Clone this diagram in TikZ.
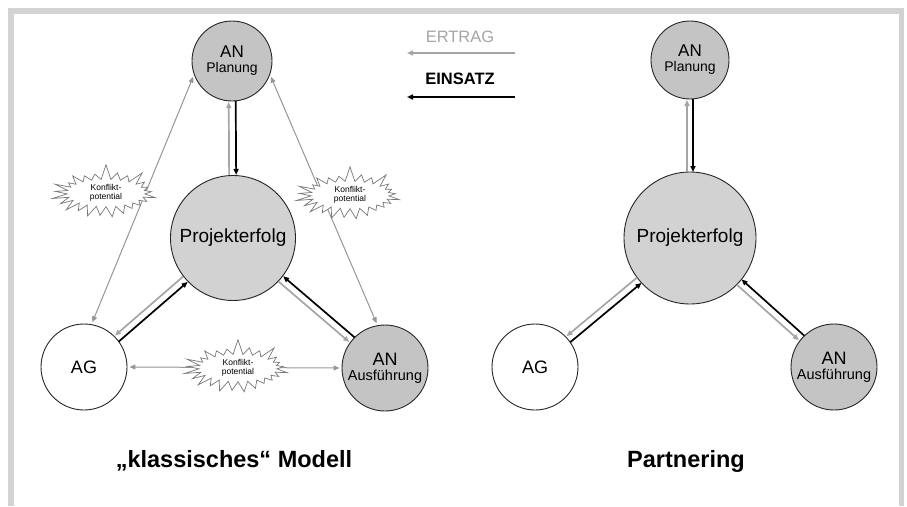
\documentclass[tikz,border=0pt]{standalone}
\usepackage{fontspec}
\setmainfont{Liberation Sans}
\usetikzlibrary{arrows.meta,calc,shapes.symbols}
\definecolor{framegray}{RGB}{211,211,211}
\definecolor{ertraggray}{RGB}{165,165,165}
\definecolor{linegray}{RGB}{150,150,150}
\definecolor{angray}{RGB}{196,196,196}
\definecolor{pgray}{RGB}{210,210,210}
\definecolor{burstgray}{RGB}{120,120,120}

\begin{document}
\begin{tikzpicture}[x=1pt,y=-1pt,
  party/.style={circle, draw=black!85, line width=0.9pt, inner sep=0pt, align=center},
  anbox/.style={party, fill=angray},
  agbox/.style={party, fill=white, font=\fontsize{18}{18}\selectfont},
  goalbox/.style={party, fill=pgray, font=\fontsize{19}{19}\selectfont},
  burst/.style={starburst, starburst points=25, starburst point height=16pt,
    random starburst=7, draw=burstgray, fill=white, line width=0.7pt,
    align=center, inner sep=1pt, minimum width=110pt, minimum height=50pt,
    font=\fontsize{8.5}{9.5}\selectfont},
  tipa/.style={-{Triangle[length=6pt,width=5pt]}},
  einsatz/.style={tipa, line width=1.7pt, black},
  ertrag/.style={tipa, line width=1.7pt, ertraggray},
  konflikt/.style={{Triangle[length=6pt,width=5pt]}-{Triangle[length=6pt,width=5pt]},
    line width=1pt, linegray, shorten <=2pt, shorten >=2pt},
  title/.style={font=\fontsize{23.5}{24}\selectfont\bfseries},
]
\useasboundingbox (0,0) rectangle (907,506);
% open frame
\draw[framegray, line width=5.7pt] (11.2,506) -- (11.2,11.2) -- (901.5,11.2) -- (901.5,506);

% ---------- classic model ----------
\node[anbox, minimum size=80pt] (lp) at (232,61)
  {\fontsize{17}{17}\selectfont AN\\[3pt]\fontsize{14}{14}\selectfont Planung};
\node[goalbox, minimum size=125pt] (lpe) at (233,238) {Projekterfolg};
\node[agbox, minimum size=86pt] (lag) at (84,367) {AG};
\node[anbox, minimum size=86pt] (laa) at (385,368)
  {\fontsize{18}{18}\selectfont AN\\[3pt]\fontsize{14.5}{15}\selectfont Ausführung};

% conflict lines between the parties
\draw[konflikt] (lp.200) -- (lag.80);
\draw[konflikt] (lp.-20) -- (laa.100);
\draw[konflikt] (lag.east) -- (laa.west);
\node[burst] (lb1) at (106,193) {Konflikt-\\potential};
\node[burst] (lb2) at (350,195) {Konflikt-\\potential};
\node[burst] (lb3) at (238,368) {Konflikt-\\potential};

% input / return pairs
\draw[einsatz, shorten <=40pt, shorten >=63pt]
  ($(lp)!3.5pt!90:(lpe)$) -- ($(lpe)!3.5pt!-90:(lp)$);
\draw[ertrag, shorten <=63pt, shorten >=41pt]
  ($(lpe)!3.5pt!90:(lp)$) -- ($(lp)!3.5pt!-90:(lpe)$);
\draw[einsatz, shorten <=43pt, shorten >=63pt]
  ($(lag)!3.5pt!-90:(lpe)$) -- ($(lpe)!3.5pt!90:(lag)$);
\draw[ertrag, shorten <=63pt, shorten >=44pt]
  ($(lpe)!3.5pt!-90:(lag)$) -- ($(lag)!3.5pt!90:(lpe)$);
\draw[einsatz, shorten <=43pt, shorten >=63pt]
  ($(laa)!3.5pt!-90:(lpe)$) -- ($(lpe)!3.5pt!90:(laa)$);
\draw[ertrag, shorten <=63pt, shorten >=44pt]
  ($(lpe)!3.5pt!-90:(laa)$) -- ($(laa)!3.5pt!90:(lpe)$);

% ---------- partnering ----------
\node[anbox, minimum size=78pt] (rp) at (690,60)
  {\fontsize{17}{17}\selectfont AN\\[3pt]\fontsize{14}{14}\selectfont Planung};
\node[goalbox, minimum size=132pt] (rpe) at (690,238) {Projekterfolg};
\node[agbox, minimum size=86pt] (rag) at (535,367) {AG};
\node[anbox, minimum size=86pt] (raa) at (834,367)
  {\fontsize{18}{18}\selectfont AN\\[3pt]\fontsize{14.5}{15}\selectfont Ausführung};

\draw[einsatz, shorten <=39pt, shorten >=66pt]
  ($(rp)!3pt!90:(rpe)$) -- ($(rpe)!3pt!-90:(rp)$);
\draw[ertrag, shorten <=66pt, shorten >=40pt]
  ($(rpe)!3pt!90:(rp)$) -- ($(rp)!3pt!-90:(rpe)$);
\draw[einsatz, shorten <=43pt, shorten >=66pt]
  ($(rag)!3.5pt!-90:(rpe)$) -- ($(rpe)!3.5pt!90:(rag)$);
\draw[ertrag, shorten <=66pt, shorten >=44pt]
  ($(rpe)!3.5pt!-90:(rag)$) -- ($(rag)!3.5pt!90:(rpe)$);
\draw[einsatz, shorten <=43pt, shorten >=66pt]
  ($(raa)!3.5pt!-90:(rpe)$) -- ($(rpe)!3.5pt!90:(raa)$);
\draw[ertrag, shorten <=66pt, shorten >=44pt]
  ($(rpe)!3.5pt!-90:(raa)$) -- ($(raa)!3.5pt!90:(rpe)$);

% ---------- legend ----------
\node[ertraggray, font=\fontsize{16.5}{17}\selectfont] (ertragtxt) at (460,37) {ERTRAG};
\coordinate (ertragA) at (515,53);
\coordinate (ertragB) at (407,53);
\draw[ertrag, line width=1.4pt] (ertragA) -- (ertragB);
\node[font=\fontsize{16.5}{17}\selectfont\bfseries] (einsatztxt) at (460,79) {EINSATZ};
\coordinate (einsatzA) at (515,97);
\coordinate (einsatzB) at (407,97);
\draw[einsatz, line width=1.6pt] (einsatzA) -- (einsatzB);

% ---------- titles ----------
\node[title] (tleft) at (234,461) {„klassisches“ Modell};
\node[title] (tright) at (686,461) {Partnering};
\end{tikzpicture}
\end{document}
